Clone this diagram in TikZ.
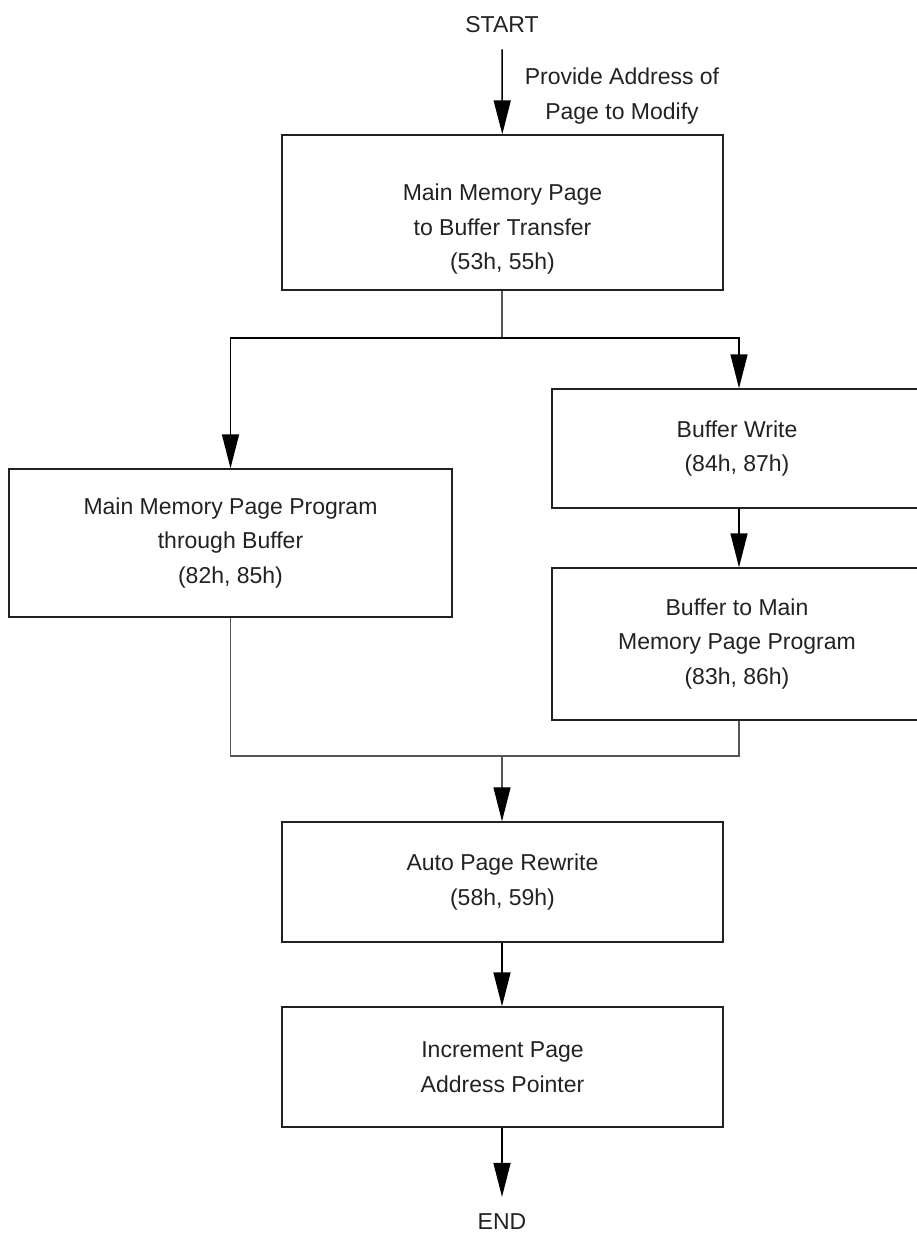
\documentclass[tikz,border=0pt]{standalone}
\usepackage{fontspec}
\setmainfont{Liberation Sans}
\usetikzlibrary{arrows.meta}
\definecolor{ink}{HTML}{222222}
\definecolor{wire}{HTML}{555555}
\begin{document}
\begin{tikzpicture}[x=1pt,y=-1pt,
  font=\fontsize{23}{34.5}\selectfont,
  every node/.style={text=ink},
  stepbox/.style={draw=ink,line width=1.4pt,rectangle,inner sep=0pt,align=center},
  term/.style={inner xsep=0pt},
  flow/.style={draw=black,line width=1.5pt,-{Triangle[length=34pt,width=17pt]}},
  merge/.style={draw=wire,line width=1.1pt},
  mergearrow/.style={merge,-{Triangle[length=34pt,width=17pt,color=black]}}]
  \useasboundingbox (0,0) rectangle (917,1233);

  % terminals
  \node[term,inner ysep=16pt] (start) at (502,25) {START};
  \node[term,inner ysep=17pt] (end) at (502,1222) {END};
  \node[align=center,inner sep=0pt] (addr) at (622,96) {Provide Address of\\Page to Modify};

  % process steps
  \node[stepbox,minimum width=441pt,minimum height=155pt] (fetch) at (502.5,212.5)
    {\raisebox{-16pt}[\height][\depth]{\begin{tabular}{@{}c@{}}Main Memory Page\\to Buffer Transfer\\(53h, 55h)\end{tabular}}};
  \node[stepbox,minimum width=443pt,minimum height=148pt] (direct) at (230.5,543)
    {Main Memory Page Program\\through Buffer\\(82h, 85h)};
  \node[stepbox,minimum width=370pt,minimum height=119pt] (bwrite) at (737,448.5)
    {Buffer Write\\(84h, 87h)};
  \node[stepbox,minimum width=370pt,minimum height=152pt] (bprog) at (737,644)
    {Buffer to Main\\Memory Page Program\\(83h, 86h)};
  \node[stepbox,minimum width=441pt,minimum height=120pt] (rewrite) at (502.5,882)
    {Auto Page Rewrite\\(58h, 59h)};
  \node[stepbox,minimum width=441pt,minimum height=120pt] (incr) at (502.5,1067)
    {Increment Page\\Address Pointer};

  % branch and join points
  \coordinate (split) at (502,338);
  \coordinate (join) at (502,756);

  % connectors
  \draw[flow] (start) -- (fetch);
  \draw[merge] (fetch.south -| split) -- (split);
  \draw[flow] (split) -| (direct.north);
  \draw[flow] (split) -| ([xshift=2pt]bwrite.north);
  \draw[flow] ([xshift=2pt]bwrite.south) -- ([xshift=2pt]bprog.north);
  \draw[merge] (direct.south) |- (join);
  \draw[merge] ([xshift=2pt]bprog.south) |- (join);
  \draw[mergearrow] (join) -- (rewrite.north -| join);
  \draw[flow] (rewrite.south -| join) -- (incr.north -| join);
  \draw[flow] (incr.south -| join) -- (end);
\end{tikzpicture}
\end{document}
